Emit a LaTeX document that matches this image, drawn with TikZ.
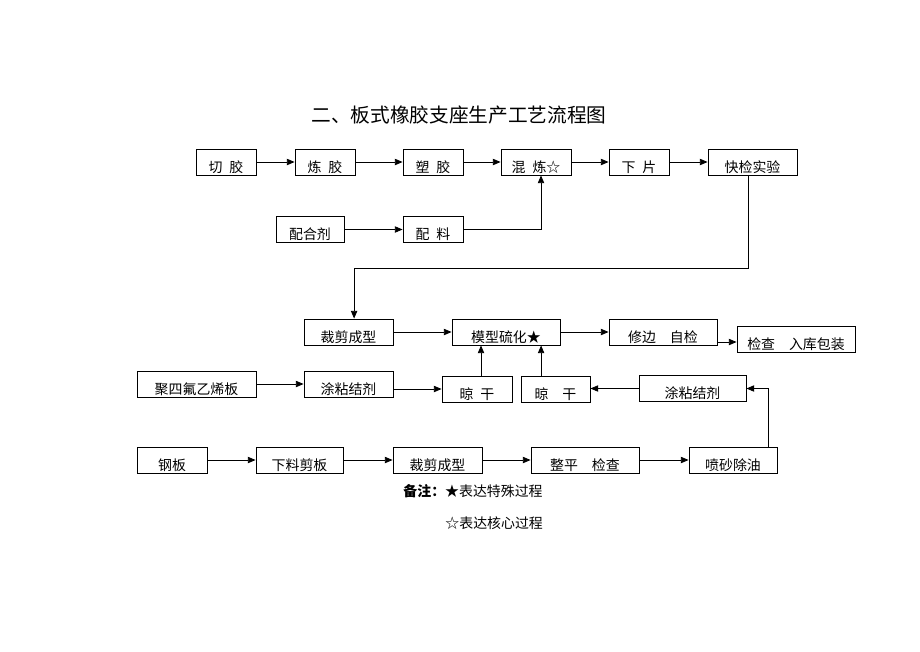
\documentclass[tikz,border=0pt]{standalone}
\usepackage{fontspec}
\setmainfont{Noto Sans CJK SC}
\usetikzlibrary{arrows.meta,positioning}

\begin{document}
\begin{tikzpicture}[x=0.025cm,y=-0.025cm,->,>={Triangle[length=5.5pt,width=4.5pt]},line width=0.6pt,
        box/.style={draw,inner sep=0pt,minimum height=0.65cm,text height=0.5cm,text depth=0pt,font=\fontsize{9.9}{12}\selectfont}]
        \useasboundingbox (0,0) rectangle (920,651);

        \node[font=\fontsize{14}{16}\selectfont] (title) at (459,115)
            {二、板式橡胶支座生产工艺流程图};

        \node[box,minimum width=1.5cm] (qieJiao) at (226,162)
            {切\enspace 胶};

        \node[box,minimum width=1.5cm] (lianJiao) at (325,162)
            {炼\enspace 胶};

        \node[box,minimum width=1.5cm] (suJiao) at (433,162)
            {塑\enspace 胶};

        \node[box,minimum width=1.75cm] (hunLian) at (536,162)
            {混\enspace 炼☆};

        \node[box,minimum width=1.5cm] (xiaPian) at (639,162)
            {下\enspace 片};

        \node[box,minimum width=2.225cm] (kuaiJian) at (752.5,162)
            {快检实验};

        \node[box,minimum width=1.7cm] (peiHeJi) at (310,229.5)
            {配合剂};

        \node[box,minimum width=1.5cm] (peiLiao) at (433,229.5)
            {配\enspace 料};

        \node[box,minimum width=2.225cm] (caiJianA) at (348.5,332)
            {裁剪成型};

        \node[box,minimum width=2.7cm] (moXing) at (506,332)
            {模型硫化★};

        \node[box,minimum width=2.7cm] (xiuBian) at (663,332)
            {修边\quad 自检};

        \node[box,minimum width=2.95cm] (ruKu) at (796,339)
            {检查\quad 入库包装};

        \node[box,minimum width=2.975cm] (juSiFu) at (196.5,384)
            {聚四氟乙烯板};

        \node[box,minimum width=2.225cm] (tuNianA) at (348.5,384)
            {涂粘结剂};

        \node[box,minimum width=1.75cm] (liangA) at (477,389)
            {晾\enspace 干};

        \node[box,minimum width=1.725cm] (liangB) at (555.5,389)
            {晾\quad 干};

        \node[box,minimum width=2.675cm] (tuNianB) at (692.5,388.5)
            {涂粘结剂};

        \node[box,minimum width=1.75cm] (gangBan) at (172,460)
            {钢板};

        \node[box,minimum width=2.175cm] (xiaLiao) at (299.5,460)
            {下料剪板};

        \node[box,minimum width=2.225cm] (caiJianB) at (437.5,460)
            {裁剪成型};

        \node[box,minimum width=2.7cm] (zhengPing) at (585,460)
            {整平\quad 检查};

        \node[box,minimum width=2.2cm] (penSha) at (733,460)
            {喷砂除油};

        \node[anchor=west,inner sep=0pt,font=\fontsize{9.9}{12}\selectfont] (noteA) at (403,491)
            {\textbf{备注：}★表达特殊过程};

        \node[anchor=west,inner sep=0pt,font=\fontsize{9.9}{12}\selectfont] (noteB) at (445,523)
            {☆表达核心过程};

        \path
        (qieJiao)   edge (lianJiao)
        (lianJiao)  edge (suJiao)
        (suJiao)    edge (hunLian)
        (hunLian)   edge (xiaPian)
        (xiaPian)   edge (kuaiJian)
        (peiHeJi)   edge (peiLiao)
        (caiJianA)  edge (moXing)
        (moXing)    edge (xiuBian)
        (juSiFu)    edge (tuNianA)
        (gangBan)   edge (xiaLiao)
        (xiaLiao)   edge (caiJianB)
        (caiJianB)  edge (zhengPing)
        (zhengPing) edge (penSha)
        ;

        \draw (peiLiao.east) -| ([xshift=0.125cm]hunLian.south);
        \draw ([xshift=-0.1cm]kuaiJian.south) -- ++(0,93) -| ([xshift=0.14cm]caiJianA.north);
        \coordinate (xbOut) at ([yshift=-0.25cm]xiuBian.east);
        \draw (xbOut) -- (xbOut -| ruKu.west);
        \draw (tuNianA.east |- liangA.west) -- (liangA.west);
        \draw ([xshift=0.1cm]liangA.north) coordinate (laOut) -- (laOut |- moXing.south);
        \draw ([xshift=-0.36cm]liangB.north) coordinate (lbOut) -- (lbOut |- moXing.south);
        \draw (tuNianB.west) -- (tuNianB.west -| liangB.east);
        \draw ([xshift=0.875cm]penSha.north) |- (tuNianB.east);
    \end{tikzpicture}
\end{document}
